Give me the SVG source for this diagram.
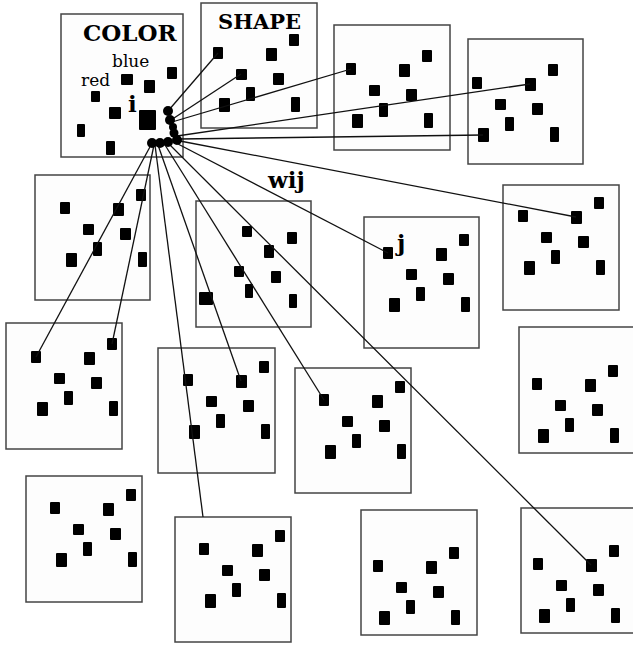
<svg xmlns="http://www.w3.org/2000/svg" xmlns:xlink="http://www.w3.org/1999/xlink" width="633" height="648" viewBox="0 0 633 648">
<style>
.box{fill:#fdfdfd;stroke:#444;stroke-width:1.5}
.sq{fill:#000}
.ln{stroke:#111;stroke-width:1.3;fill:none}
.lab{font-family:"DejaVu Serif",serif;fill:#000}
.b{font-weight:bold}
</style>
<defs>
<g id="pat">
<rect class="sq" x="0" y="0" width="10" height="12" rx="1"/>
<rect class="sq" x="53" y="1" width="11" height="13" rx="1"/>
<rect class="sq" x="76" y="-13" width="10" height="12" rx="1"/>
<rect class="sq" x="23" y="22" width="11" height="11" rx="1"/>
<rect class="sq" x="60" y="26" width="11" height="12" rx="1"/>
<rect class="sq" x="33" y="40" width="9" height="14" rx="1"/>
<rect class="sq" x="6" y="51" width="11" height="14" rx="1"/>
<rect class="sq" x="78" y="50" width="9" height="15" rx="1"/>
</g>
</defs>
<rect width="633" height="648" fill="#fff"/>

<g id="box-color">
<rect class="box" x="61" y="14" width="122" height="143"/>
<text class="lab b" x="83" y="41" font-size="23">COLOR</text>
<text class="lab" x="112" y="67" font-size="17">blue</text>
<text class="lab" x="81" y="86" font-size="17">red</text>
<text class="lab b" x="128" y="112" font-size="23">i</text>
<rect class="sq" x="167" y="67" width="10" height="12" rx="1"/>
<rect class="sq" x="121" y="74" width="12" height="11" rx="1"/>
<rect class="sq" x="144" y="80" width="11" height="13" rx="1"/>
<rect class="sq" x="91" y="91" width="9" height="11" rx="1"/>
<rect class="sq" x="109" y="107" width="12" height="12" rx="1"/>
<rect class="sq" x="139" y="110" width="17" height="20" rx="1"/>
<rect class="sq" x="77" y="124" width="8" height="13" rx="1"/>
<rect class="sq" x="106" y="141" width="9" height="14" rx="1"/>
</g>
<g id="box-shape">
<rect class="box" x="201" y="3" width="116" height="125"/>
<text class="lab b" x="218" y="29" font-size="21">SHAPE</text>
<use xlink:href="#pat" x="213" y="47"/>
</g>
<g id="box3"><rect class="box" x="334" y="25" width="116" height="125"/><use xlink:href="#pat" x="346" y="63"/></g>
<g id="box4"><rect class="box" x="468" y="39" width="115" height="125"/><use xlink:href="#pat" x="472" y="77"/></g>
<g id="box5"><rect class="box" x="35" y="175" width="115" height="125"/><use xlink:href="#pat" x="60" y="202"/></g>
<g id="box6">
<rect class="box" x="196" y="201" width="115" height="126"/>
<rect class="sq" x="242" y="226" width="10" height="11" rx="1"/>
<rect class="sq" x="287" y="232" width="10" height="12" rx="1"/>
<rect class="sq" x="264" y="245" width="10" height="13" rx="1"/>
<rect class="sq" x="234" y="266" width="10" height="11" rx="1"/>
<rect class="sq" x="271" y="271" width="10" height="12" rx="1"/>
<rect class="sq" x="245" y="284" width="8" height="14" rx="1"/>
<rect class="sq" x="199" y="292" width="14" height="13" rx="1"/>
<rect class="sq" x="289" y="294" width="8" height="14" rx="1"/>
</g>
<g id="box7">
<rect class="box" x="364" y="217" width="115" height="131"/>
<use xlink:href="#pat" x="383" y="247"/>
<text class="lab b" x="397" y="251" font-size="23">j</text>
</g>
<g id="box8"><rect class="box" x="503" y="185" width="116" height="125"/><use xlink:href="#pat" x="518" y="210"/></g>
<g id="box9"><rect class="box" x="6" y="323" width="116" height="126"/><use xlink:href="#pat" x="31" y="351"/></g>
<g id="box10"><rect class="box" x="158" y="348" width="117" height="125"/><use xlink:href="#pat" x="183" y="374"/></g>
<g id="box11"><rect class="box" x="295" y="368" width="116" height="125"/><use xlink:href="#pat" x="319" y="394"/></g>
<g id="box12"><rect class="box" x="519" y="327" width="116" height="126"/><use xlink:href="#pat" x="532" y="378"/></g>
<g id="box13"><rect class="box" x="26" y="476" width="116" height="126"/><use xlink:href="#pat" x="50" y="502"/></g>
<g id="box14"><rect class="box" x="175" y="517" width="116" height="125"/><use xlink:href="#pat" x="199" y="543"/></g>
<g id="box15"><rect class="box" x="361" y="510" width="116" height="125"/><use xlink:href="#pat" x="373" y="560"/></g>
<g id="box16"><rect class="box" x="521" y="508" width="116" height="125"/><use xlink:href="#pat" x="533" y="558"/></g>

<text class="lab b" x="268" y="188" font-size="23">wij</text>

<g id="connectors">
<line class="ln" x1="168" y1="111" x2="218" y2="53"/>
<line class="ln" x1="171" y1="120" x2="241" y2="74"/>
<line class="ln" x1="172" y1="122" x2="351" y2="69"/>
<line class="ln" x1="177" y1="136" x2="530" y2="84"/>
<line class="ln" x1="179" y1="139" x2="483" y2="135"/>
<line class="ln" x1="180" y1="141" x2="576" y2="217"/>
<line class="ln" x1="178" y1="144" x2="388" y2="253"/>
<line class="ln" x1="151" y1="145" x2="36" y2="357"/>
<line class="ln" x1="154" y1="145" x2="112" y2="344"/>
<line class="ln" x1="155" y1="145" x2="203" y2="517"/>
<line class="ln" x1="158" y1="145" x2="241" y2="381"/>
<line class="ln" x1="165" y1="145" x2="324" y2="400"/>
<line class="ln" x1="170" y1="145" x2="591" y2="565"/>
<circle cx="168" cy="111" r="5"/>
<circle cx="170" cy="120" r="5"/>
<circle cx="173" cy="127" r="4"/>
<circle cx="174" cy="133" r="4.5"/>
<circle cx="152" cy="143" r="5"/>
<circle cx="160" cy="143" r="5"/>
<circle cx="168" cy="142" r="5"/>
<circle cx="177" cy="140" r="5"/>
</g>
</svg>
